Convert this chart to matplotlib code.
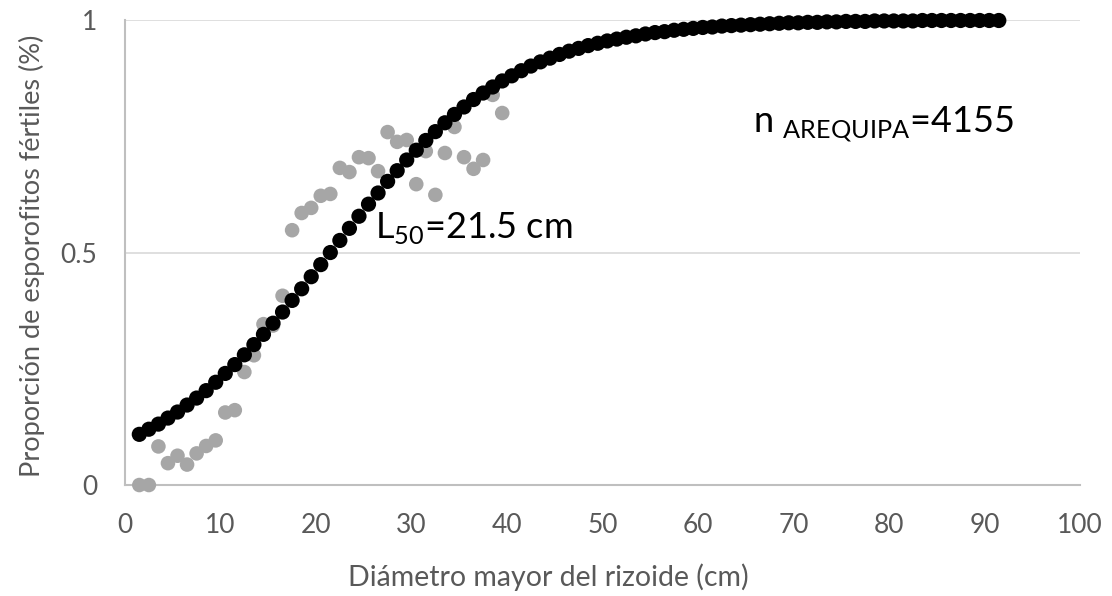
import matplotlib
matplotlib.use('Agg')
import matplotlib.pyplot as plt

# observed proportion (grey) and logistic fit (black)
x_obs = [1.5, 2.5, 3.5, 4.5, 5.5, 6.5, 7.5, 8.5, 9.5, 10.5, 11.5, 12.5, 13.5, 14.5, 15.5,
         16.5, 17.5, 18.5, 19.5, 20.5, 21.5, 22.5, 23.5, 24.5, 25.5, 26.5, 27.5, 28.5, 29.5,
         30.5, 31.5, 32.5, 33.5, 34.5, 35.5, 36.5, 37.5, 38.5, 39.5]
y_obs = [0.0, 0.0, 0.083, 0.047, 0.063, 0.044, 0.068, 0.084, 0.096, 0.156, 0.161, 0.243,
         0.279, 0.346, 0.343, 0.407, 0.548, 0.585, 0.596, 0.622, 0.626, 0.682, 0.673, 0.705,
         0.703, 0.675, 0.759, 0.738, 0.742, 0.647, 0.718, 0.624, 0.714, 0.770, 0.705, 0.680,
         0.699, 0.839, 0.800]

x_fit = [1.5 + i for i in range(91)]
y_fit = [0.109, 0.120, 0.131, 0.144, 0.157, 0.172, 0.187, 0.203, 0.221, 0.240,
         0.259, 0.280, 0.302, 0.324, 0.348, 0.372, 0.397, 0.422, 0.448, 0.474,
         0.500, 0.526, 0.552, 0.578, 0.604, 0.628, 0.653, 0.676, 0.699, 0.720,
         0.741, 0.760, 0.779, 0.797, 0.813, 0.829, 0.843, 0.856, 0.869, 0.880,
         0.891, 0.901, 0.910, 0.918, 0.926, 0.933, 0.939, 0.945, 0.950, 0.955,
         0.959, 0.963, 0.966, 0.970, 0.973, 0.975, 0.978, 0.980, 0.982, 0.984,
         0.985, 0.987, 0.988, 0.989, 0.990, 0.991, 0.992, 0.993, 0.994, 0.994,
         0.995, 0.995, 0.996, 0.996, 0.997, 0.997, 0.997, 0.998, 0.998, 0.998,
         0.998, 0.998, 0.999, 0.999, 0.999, 0.999, 0.999, 0.999, 0.999, 0.999, 0.999]

x_ticks = [0, 10, 20, 30, 40, 50, 60, 70, 80, 90, 100]
y_ticks = [0, 0.5, 1]
y_tick_labels = ['0', '0.5', '1']

plt.rcParams['font.family'] = ['Lato', 'DejaVu Sans']
plt.rcParams['mathtext.fontset'] = 'custom'
plt.rcParams['mathtext.rm'] = 'Lato'

fig = plt.figure(figsize=(11.12, 5.96), dpi=100)
ax = fig.add_axes([0.1124, 0.1862, 0.8588, 0.7802])

ax.scatter(x_obs, y_obs, s=110, color='#A6A6A6', edgecolors='none', zorder=3, clip_on=False)
ax.scatter(x_fit, y_fit, s=120, color='#000000', edgecolors='none', zorder=4, clip_on=False)

ax.set_xlim(0, 100)
ax.set_ylim(0, 1)
ax.set_xticks(x_ticks)
ax.set_yticks(y_ticks)
ax.set_yticklabels(y_tick_labels)
ax.tick_params(axis='x', length=0, labelsize=19, labelcolor='#595959', pad=20)
ax.tick_params(axis='y', length=0, labelsize=19, labelcolor='#595959', pad=20)

ax.grid(axis='y', color='#D9D9D9', linewidth=1.2)
ax.set_axisbelow(True)
for side in ['top', 'right']:
    ax.spines[side].set_visible(False)
for side in ['left', 'bottom']:
    ax.spines[side].set_color('#BFBFBF')
    ax.spines[side].set_linewidth(1.5)

ax.set_xlabel('Diámetro mayor del rizoide (cm)', fontsize=20.5, color='#595959')
ax.set_ylabel('Proporción de esporofitos fértiles (%)', fontsize=19.5, color='#595959')
ax.xaxis.set_label_coords(0.443, -0.168)
ax.yaxis.set_label_coords(-0.084, 0.493)

ax.text(26.2, 0.553, r'L$_{\mathregular{50}}$=21.5 cm', fontsize=26, va='center', ha='left', zorder=5)
ax.text(65.8, 0.775, r'n $_{\mathregular{AREQUIPA}}$=4155', fontsize=26, va='center', ha='left', zorder=5)

fig.savefig('out.png', dpi=100)
